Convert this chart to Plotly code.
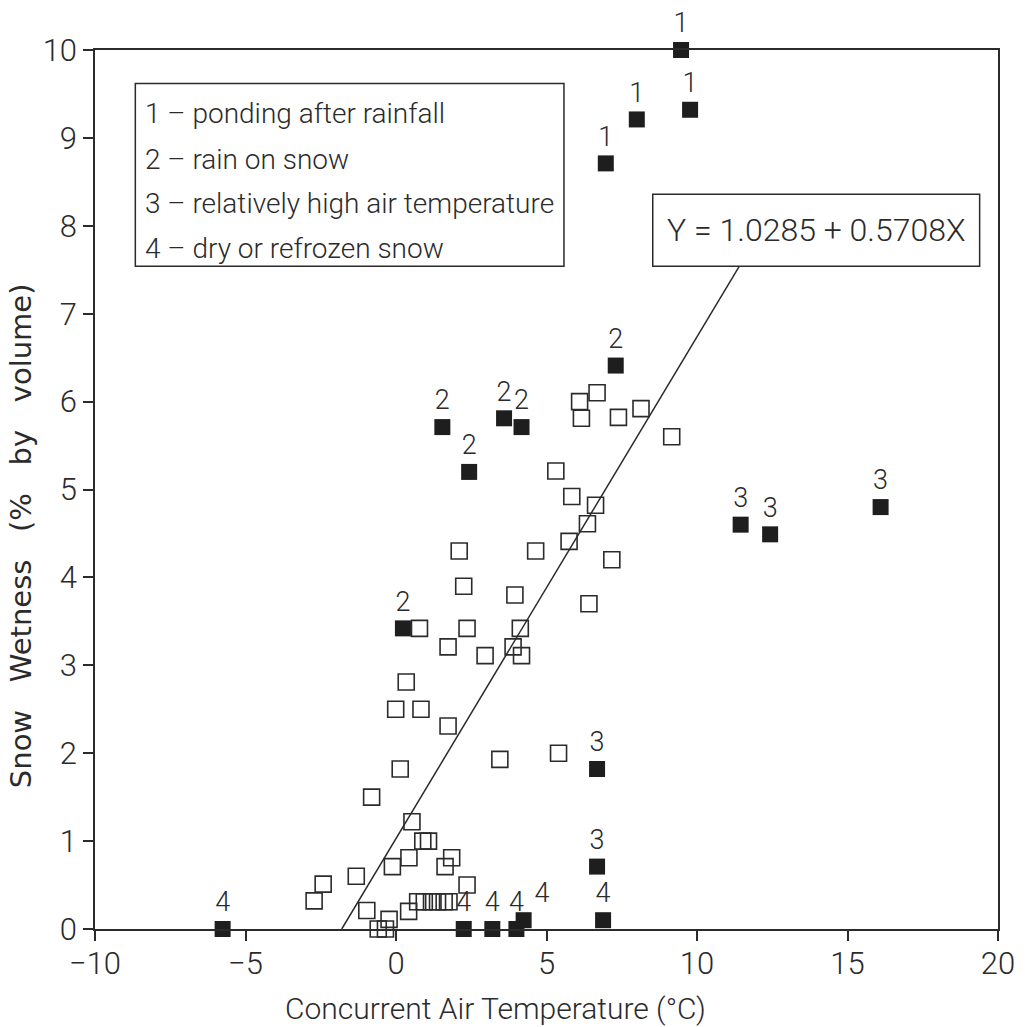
import plotly.graph_objects as go

# Observations flagged by cause (1-4): concurrent air temperature (degC) and snow wetness (% by volume)
flag_temp = [9.47, 8.00, 9.77, 6.97,
             7.30, 1.54, 3.59, 4.17, 2.43, 0.23,
             11.45, 12.43, 16.10, 6.68, 6.68,
             -5.76, 2.25, 3.20, 4.00, 4.24, 6.88]
flag_wet = [10.00, 9.21, 9.32, 8.71,
            6.41, 5.71, 5.81, 5.71, 5.20, 3.42,
            4.60, 4.49, 4.80, 1.82, 0.71,
            0.00, 0.00, 0.00, 0.00, 0.10, 0.10]
flag_cause = ["1", "1", "1", "1",
              "2", "2", "2", "2", "2", "2",
              "3", "3", "3", "3", "3",
              "4", "4", "4", "4", "4", "4"]

# Remaining (unflagged) observations
obs_temp = [6.68, 6.10, 6.16, 7.39, 8.14, 9.16, 5.31, 5.84, 6.63, 6.36, 5.75, 7.17,
            2.10, 4.64, 2.25, 3.95, 6.41, 0.78, 2.36, 4.13,
            1.73, 2.96, 3.89, 4.17, 0.34, -0.01, 0.83, 1.73, 3.45, 5.40,
            0.14, -0.81, 0.53, 0.89, 1.08,
            0.43, -0.12, 1.63, 1.85, -1.32, -2.42, -2.72, 2.36,
            0.72, 0.94, 1.18, 1.38, 1.60, 1.76,
            0.42, -0.97, -0.23, -0.59, -0.35]
obs_wet = [6.10, 6.00, 5.81, 5.82, 5.92, 5.60, 5.21, 4.92, 4.82, 4.61, 4.41, 4.20,
           4.30, 4.30, 3.90, 3.80, 3.70, 3.42, 3.42, 3.42,
           3.21, 3.11, 3.21, 3.11, 2.81, 2.50, 2.50, 2.31, 1.93, 2.00,
           1.82, 1.50, 1.22, 1.00, 1.00,
           0.81, 0.71, 0.71, 0.81, 0.60, 0.51, 0.32, 0.50,
           0.31, 0.31, 0.31, 0.31, 0.31, 0.31,
           0.20, 0.21, 0.11, 0.00, 0.00]

# Least-squares fit
INTERCEPT = 1.0285
SLOPE = 0.5708

cause_text = [
    "1 – ponding after rainfall",
    "2 – rain on snow",
    "3 – relatively high air temperature",
    "4 – dry or refrozen snow",
]

x_ticks = [-10, -5, 0, 5, 10, 15, 20]
y_ticks = list(range(0, 11))

INK = "#2b2b2b"
FONT = "Roboto, sans-serif"
WEIGHT = 300

# Fit line runs from the x-intercept up to the underside of the equation box
fit_top = 7.54
fit_x = [-INTERCEPT / SLOPE, (fit_top - INTERCEPT) / SLOPE]
fit_y = [INTERCEPT + SLOPE * v for v in fit_x]

fig = go.Figure()

fig.add_trace(go.Scatter(
    x=fit_x, y=fit_y, mode="lines",
    line=dict(color=INK, width=1.5),
    hoverinfo="skip", showlegend=False,
))

fig.add_trace(go.Scatter(
    x=obs_temp, y=obs_wet, mode="markers",
    marker=dict(symbol="square-open", size=16, color=INK, line=dict(width=1.6, color=INK)),
    showlegend=False, cliponaxis=False,
))

# Two "4" labels sit side by side near x = 4: push the right-hand one outward
label_pos = ["top center"] * len(flag_cause)
label_pos[19] = "top right"

fig.add_trace(go.Scatter(
    x=flag_temp, y=flag_wet, mode="markers+text",
    text=flag_cause, textposition=label_pos,
    textfont=dict(family=FONT, size=27, color=INK, weight=WEIGHT),
    marker=dict(symbol="square", size=16, color="#1e1e1e", line=dict(width=0)),
    showlegend=False, cliponaxis=False,
))

# Cause key box
fig.add_shape(type="rect", xref="x", yref="y",
              x0=-8.66, x1=5.58, y0=7.54, y1=9.62,
              line=dict(color=INK, width=1.5), fillcolor="rgba(0,0,0,0)")
key_y = [9.28, 8.76, 8.25, 7.74]
for label, yy in zip(cause_text, key_y):
    fig.add_annotation(x=-8.40, y=yy, xref="x", yref="y", text=label,
                       showarrow=False, xanchor="left", yanchor="middle",
                       font=dict(family=FONT, size=28, color=INK, weight=WEIGHT))

# Regression equation box
fig.add_shape(type="rect", xref="x", yref="y",
              x0=8.53, x1=19.39, y0=7.54, y1=8.36,
              line=dict(color=INK, width=1.5), fillcolor="white")
fig.add_annotation(x=(8.53 + 19.39) / 2, y=7.95, xref="x", yref="y",
                   text=f"Y = {INTERCEPT:.4f} + {SLOPE:.4f}X",
                   showarrow=False, xanchor="center", yanchor="middle",
                   font=dict(family=FONT, size=32, color=INK, weight=WEIGHT))

# Axis titles
fig.add_annotation(x=0.4436, y=-0.091, xref="paper", yref="paper",
                   text="Concurrent Air Temperature (°C)",
                   showarrow=False, xanchor="center", yanchor="middle",
                   font=dict(family=FONT, size=30, color=INK, weight=WEIGHT))
fig.add_annotation(x=-0.082, y=0.448, xref="paper", yref="paper",
                   text="Snow   Wetness   (%   by   volume)", textangle=-90,
                   showarrow=False, xanchor="center", yanchor="middle",
                   font=dict(family="DejaVu Sans, sans-serif", size=29, color=INK))

axis_common = dict(
    showgrid=False, zeroline=False, showline=True, mirror=True,
    linecolor=INK, linewidth=1.5, ticks="outside", ticklen=10,
    tickwidth=1.5, tickcolor=INK,
    tickfont=dict(family=FONT, size=31, color=INK, weight=WEIGHT),
)
fig.update_xaxes(range=[-10, 20], tickvals=x_ticks, ticklabelstandoff=-4, **axis_common)
fig.update_yaxes(range=[0, 10], tickvals=y_ticks, **axis_common)

fig.update_layout(
    width=1027, height=1027,
    margin=dict(l=95, r=19, t=50, b=98),
    plot_bgcolor="white", paper_bgcolor="white",
    showlegend=False,
)

fig.write_html("out.html")
